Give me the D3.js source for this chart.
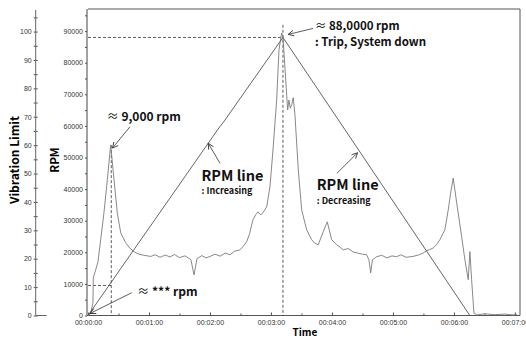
<!DOCTYPE html>
<html>
<head>
<meta charset="utf-8">
<script src="https://cdn.jsdelivr.net/npm/d3@7"></script>
<style>
  body { margin: 0; background: #fff; }
  svg { display: block; }
</style>
</head>
<body>
<div id="chart"></div>
<script>
// time is in seconds from start
var vibTime = [0, 2.5, 4.9, 5.2, 7.6, 9.8, 12.5, 15.7, 19, 22.3,
    25.6, 28.8, 32.2, 37.1, 41, 45.2, 50, 55, 61.7, 66,
    71, 76, 80.7, 85, 90, 95.4, 99, 101.3, 104.3, 107.2,
    112, 116, 120, 125, 130, 135, 139.7, 144, 149.5, 153,
    156.1, 159, 161, 162.3, 165, 167.2, 170, 172.1, 175.8, 179,
    182, 185.6, 187.9, 190.5, 191.8, 193.3, 196.4, 197.7, 199, 200.4,
    201.9, 203.6, 206.9, 210.2, 215.1, 220, 223, 226.5, 231.4, 235.4,
    239.7, 244.6, 248, 251.1, 256, 260.7, 265, 270, 274.1, 276.4,
    278.1, 279.8, 284, 289, 294, 299, 303.6, 308, 313, 319.7,
    325, 329.8, 333, 336, 339.6, 343, 346.2, 351.1, 354.4, 356.8,
    359.3, 362.7, 367.6, 370.8, 374.1, 375.7, 377.4, 379.7, 382.6, 390,
    400, 410, 418, 422];
var vibValue = [0, 0.6, 4.5, 13.3, 16.1, 18.9, 26.7, 36.2, 47.8, 60.1,
    47.8, 36.2, 29.1, 25.6, 23.8, 22.5, 21.6, 21.2, 20.8, 21.4,
    20.5, 21.3, 20.6, 21.5, 20.4, 21.0, 20.2, 19.6, 14.3, 20.0,
    21.1, 20.3, 20.8, 21.6, 20.9, 22.0, 21.4, 22.6, 23.1, 24.5,
    26.0, 28.8, 31.9, 33.7, 35.5, 36.5, 35.4, 36.2, 38.3, 45.3,
    58.3, 75.9, 93.6, 99.5, 98.1, 90, 72.4, 75.9, 73, 74.2,
    76.7, 70.7, 51.3, 37.2, 30.2, 26.7, 25.5, 24.9, 29.5, 33,
    26.7, 24.9, 24.1, 23.1, 23.6, 22.4, 22.0, 21.6, 21.4, 19.6,
    15, 19.6, 20.7, 21.2, 20.3, 21.0, 20.7, 21.4, 20.5, 20.8,
    21.3, 22.0, 22.8, 23.2, 23.8, 25.0, 26.7, 30.2, 37.2, 43.2,
    48.4, 39.7, 27.8, 19.6, 12.6, 22.5, 12.6, 0.8, 0.2, 0.6,
    0.3, 0.5, 0.2, 0.4];

var rpmTime = [0, 128, 134, 191.8, 375.7];
var rpmValue = [0, 59000, 61500, 88000, 0];

var rpmTicks = [0, 10000, 20000, 30000, 40000, 50000, 60000, 70000, 80000, 90000];
var vibTicks = [0, 10, 20, 30, 40, 50, 60, 70, 80, 90, 100];
var timeTicks = [0, 60, 120, 180, 240, 300, 360, 420];
var timeLabels = ['00:00:00', '00:01:00', '00:02:00', '00:03:00', '00:04:00', '00:05:00', '00:06:00', '00:07:00'];

// marker lines: first vibration peak and trip point
var peakTime = 22.9, peakVib = 60, peakRpm = 9500;
var tripTime = 191.8, tripRpm = 88000, tripTop = 92000;

// annotation texts (position in time / rpm units)
var noteText = ['9,000 rpm', '88,0000 rpm', ': Trip, System down', 'RPM line', ': Increasing', 'RPM line', ': Decreasing', '*** rpm'];
var noteApprox = [true, true, false, false, false, false, false, true];
var noteT = [18.4, 223.3, 223.3, 111.6, 111.6, 225, 225, 48.5];
var noteR = [61440, 90300, 85400, 42700, 38500, 39700, 35300, 6260];
var noteSize = [12, 11.5, 11.5, 14.5, 9, 14.5, 9, 12];

// arrows: from -> to
var arrowFromT = [41.3, 221.6, 129.8, 244.9, 43];
var arrowFromR = [59730, 90860, 48210, 44990, 7210];
var arrowToT = [24.1, 197, 118.3, 265.2, 2];
var arrowToR = [52990, 88960, 54480, 51500, 630];

var width = 526, height = 338;
var svg = d3.select('#chart').append('svg').attr('width', width).attr('height', height);

var x = d3.scaleLinear().domain([0, 425]).range([88, 520]);
var y = d3.scaleLinear().domain([0, 97000]).range([315.5, 9]);
var yv = d3.scaleLinear().domain([0, 107.6]).range([315.5, 10]);

var tickFont = '"Liberation Sans", Arial, sans-serif';
var noteFont = '"Noto Sans CJK KR", "Noto Sans", sans-serif';

// frame
svg.append('path')
    .attr('d', 'M' + x(0) + ',' + y.range()[1] + 'H' + x.range()[1] + 'V' + y(0))
    .attr('fill', 'none').attr('stroke', '#555').attr('stroke-width', 1);

// rpm axis
var yAxis = svg.append('g').attr('transform', 'translate(' + (x(0) - 1) + ',0)')
    .call(d3.axisLeft(y).tickValues(rpmTicks).tickSize(2).tickPadding(2).tickFormat(d3.format('d')));
yAxis.select('.domain').remove();
svg.append('g').attr('transform', 'translate(' + (x(0) - 1) + ',0)')
    .call(d3.axisLeft(y).tickValues(rpmTicks.map(function(d) { return d + 5000; }))
        .tickSize(2).tickFormat(''))
    .select('.domain').remove();
svg.append('line')
    .attr('x1', x(0) - 1).attr('x2', x(0) - 1)
    .attr('y1', y.range()[1]).attr('y2', y(0))
    .attr('stroke', '#444');

// vibration axis
var vx = 35.7;
var vAxis = svg.append('g').attr('transform', 'translate(' + vx + ',0)')
    .call(d3.axisLeft(yv).tickValues(vibTicks).tickSize(2).tickPadding(2).tickFormat(d3.format('d')));
vAxis.select('.domain').remove();
svg.append('g').attr('transform', 'translate(' + vx + ',0)')
    .call(d3.axisLeft(yv).tickValues(vibTicks.map(function(d) { return d + 5; }))
        .tickSize(2).tickFormat(''))
    .select('.domain').remove();
svg.append('g').attr('transform', 'translate(' + (vx + 2) + ',0)')
    .call(d3.axisLeft(yv).tickValues(vibTicks.concat(vibTicks.map(function(d) { return d + 5; })))
        .tickSize(2).tickFormat(''))
    .select('.domain').remove();
svg.append('line')
    .attr('x1', vx).attr('x2', vx)
    .attr('y1', yv.range()[1]).attr('y2', yv(0))
    .attr('stroke', '#666');
svg.append('line')
    .attr('x1', vx).attr('x2', vx + 11)
    .attr('y1', yv(0)).attr('y2', yv(0))
    .attr('stroke', '#666');

// time axis
var xAxis = svg.append('g').attr('transform', 'translate(0,' + y(0) + ')')
    .call(d3.axisBottom(x).tickValues(timeTicks).tickSize(-3).tickPadding(5)
        .tickFormat(function(d, i) { return timeLabels[i]; }));
xAxis.select('.domain').remove();
svg.append('g').attr('transform', 'translate(0,' + y(0) + ')')
    .call(d3.axisBottom(x).tickValues(timeTicks.map(function(d) { return d + 30; }))
        .tickSize(-2).tickFormat(''))
    .select('.domain').remove();
svg.append('line')
    .attr('x1', x(0) - 1).attr('x2', x.range()[1])
    .attr('y1', y(0)).attr('y2', y(0))
    .attr('stroke', '#555');

svg.selectAll('.tick line').attr('stroke', '#555');
svg.selectAll('.tick text')
    .attr('font-family', tickFont).attr('font-size', 7).attr('fill', '#333');

// axis titles
svg.append('text')
    .attr('transform', 'translate(19,160) rotate(-90)')
    .attr('text-anchor', 'middle')
    .attr('font-family', noteFont).attr('font-weight', 'bold').attr('font-size', 12)
    .text('Vibration Limit');
svg.append('text')
    .attr('transform', 'translate(58.5,160) rotate(-90)')
    .attr('text-anchor', 'middle')
    .attr('font-family', noteFont).attr('font-weight', 'bold').attr('font-size', 11.5)
    .text('RPM');
svg.append('text')
    .attr('x', 292.5).attr('y', 336)
    .attr('font-family', noteFont).attr('font-weight', 'bold').attr('font-size', 10)
    .text('Time');

// dashed marker lines
var dash = svg.append('g').attr('stroke', '#333').attr('stroke-width', 0.8)
    .attr('stroke-dasharray', '3,2').attr('fill', 'none');
dash.append('line')
    .attr('x1', x(0)).attr('x2', x(tripTime))
    .attr('y1', y(tripRpm)).attr('y2', y(tripRpm));
dash.append('line')
    .attr('x1', x(tripTime)).attr('x2', x(tripTime))
    .attr('y1', y(tripTop)).attr('y2', y(0));
dash.append('line')
    .attr('x1', x(peakTime)).attr('x2', x(peakTime))
    .attr('y1', yv(peakVib)).attr('y2', y(0));
dash.append('line')
    .attr('x1', x(0)).attr('x2', x(peakTime))
    .attr('y1', y(peakRpm)).attr('y2', y(peakRpm));

// vibration curve
var vibLine = d3.line()
    .x(function(d, i) { return x(vibTime[i]); })
    .y(function(d) { return yv(d); });
svg.append('path')
    .attr('d', vibLine(vibValue))
    .attr('fill', 'none').attr('stroke', '#7a7a7a').attr('stroke-width', 0.9);

// rpm line
var rpmLine = d3.line()
    .x(function(d, i) { return x(rpmTime[i]); })
    .y(function(d) { return y(d); });
svg.append('path')
    .attr('d', rpmLine(rpmValue))
    .attr('fill', 'none').attr('stroke', '#555').attr('stroke-width', 0.9);

// arrows
svg.append('defs').append('marker')
    .attr('id', 'arrow')
    .attr('viewBox', '0 0 10 10')
    .attr('refX', 9).attr('refY', 5)
    .attr('markerWidth', 7).attr('markerHeight', 7)
    .attr('markerUnits', 'userSpaceOnUse')
    .attr('orient', 'auto')
    .append('path')
    .attr('d', 'M1,1 L9,5 L1,9')
    .attr('fill', 'none').attr('stroke', '#333').attr('stroke-width', 1.2);

svg.selectAll('line.arrow')
    .data(arrowFromT)
    .enter()
    .append('line')
    .attr('class', 'arrow')
    .attr('x1', function(d) { return x(d); })
    .attr('y1', function(d, i) { return y(arrowFromR[i]); })
    .attr('x2', function(d, i) { return x(arrowToT[i]); })
    .attr('y2', function(d, i) { return y(arrowToR[i]); })
    .attr('stroke', '#333').attr('stroke-width', 0.8)
    .attr('marker-end', 'url(#arrow)');

// annotation labels
var notes = svg.selectAll('text.note')
    .data(noteText)
    .enter()
    .append('text')
    .attr('class', 'note')
    .attr('x', function(d, i) { return x(noteT[i]); })
    .attr('y', function(d, i) { return y(noteR[i]); })
    .attr('font-family', noteFont)
    .attr('font-size', function(d, i) { return noteSize[i]; })
    .attr('fill', '#111');
notes.each(function(d, i) {
    var t = d3.select(this);
    if (noteApprox[i]) {
        t.append('tspan').attr('font-weight', 'normal').text('\u2248 ');
    }
    t.append('tspan').attr('font-weight', 'bold').text(d);
});
</script>
</body>
</html>
